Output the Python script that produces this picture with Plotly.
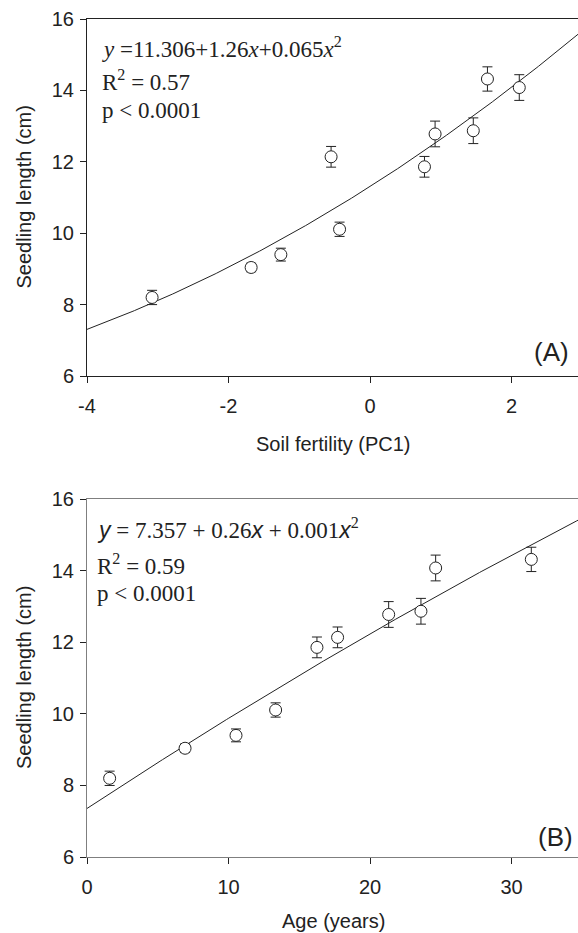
import numpy as np
import plotly.graph_objects as go

# ---- data ----
fertility = [-3.08, -1.68, -1.26, -0.55, -0.43, 0.77, 0.92, 1.46, 1.66, 2.11]
age_years = [1.6, 6.93, 10.53, 17.71, 13.33, 16.25, 21.32, 23.6, 31.4, 24.64]
seedling_len = [8.2, 9.04, 9.40, 12.14, 10.11, 11.86, 12.78, 12.87, 14.32, 14.08]
seedling_err = [0.2, 0.12, 0.18, 0.29, 0.2, 0.29, 0.36, 0.36, 0.34, 0.36]

coef_a = [11.306, 1.26, 0.065]     # fitted curve, panel A
coef_b = [7.357, 0.26, -0.0008]    # fitted curve as drawn, panel B

xrange_a = [-4, 2.94]
xrange_b = [0, 34.7]
yrange = [6, 16]
xticks_a = [-4, -2, 0, 2]
xticklabels_a = ["-4", "-2", "0", "2"]
xticks_b = [0, 10, 20, 30]
yticks = [6, 8, 10, 12, 14, 16]

SANS = "Liberation Sans, Arial, sans-serif"
SERIF = "Liberation Serif, Times New Roman, serif"


def sans_i(s):
    return "<span style='font-family:Liberation Sans'><i>%s</i></span>" % s


eq_a = "<i>y</i> =11.306+1.26<i>x</i>+0.065<i>x</i><sup>2</sup>"
eq_b = sans_i("y") + " = 7.357 + 0.26" + sans_i("x") + " + 0.001" + sans_i("x") + "<sup>2</sup>"
r2_a = "R<sup>2</sup> = 0.57"
r2_b = "R<sup>2</sup> = 0.59"
p_txt = "p &lt; 0.0001"

# ---- layout geometry (pixels) ----
W, H = 578, 933
L, R, T, B = 87, 0, 19, 76


def px(x):
    return (x - L) / (W - L - R)


def py(y):
    return (H - B - y) / (H - T - B)


DARK = "#222222"
GREY = "#7f7f7f"

fig = go.Figure()

xa = np.linspace(xrange_a[0], xrange_a[1], 300)
ya = coef_a[0] + coef_a[1] * xa + coef_a[2] * xa ** 2
xb = np.linspace(xrange_b[0], xrange_b[1], 300)
yb = coef_b[0] + coef_b[1] * xb + coef_b[2] * xb ** 2

fig.add_trace(go.Scatter(x=xa, y=ya, mode="lines", line=dict(color=DARK, width=1),
                         xaxis="x", yaxis="y", hoverinfo="skip"))
fig.add_trace(go.Scatter(x=fertility, y=seedling_len, mode="markers",
                         error_y=dict(type="data", array=seedling_err, color=DARK, thickness=1, width=5),
                         marker=dict(size=12, color="white", line=dict(color=DARK, width=1)),
                         xaxis="x", yaxis="y"))
fig.add_trace(go.Scatter(x=xb, y=yb, mode="lines", line=dict(color=DARK, width=1),
                         xaxis="x2", yaxis="y2", hoverinfo="skip"))
fig.add_trace(go.Scatter(x=age_years, y=seedling_len, mode="markers",
                         error_y=dict(type="data", array=seedling_err, color=DARK, thickness=1, width=5),
                         marker=dict(size=12, color="white", line=dict(color=DARK, width=1)),
                         xaxis="x2", yaxis="y2"))

common = dict(showgrid=False, zeroline=False, showline=True, ticks="outside", ticklen=6,
              tickwidth=1, tickfont=dict(family=SANS, size=20, color=DARK), linewidth=1)

fig.update_layout(
    width=W, height=H, margin=dict(l=L, r=R, t=T, b=B, pad=0),
    paper_bgcolor="white", plot_bgcolor="white", showlegend=False,
    xaxis=dict(domain=[0, 1], anchor="y", range=xrange_a, tickvals=xticks_a,
               ticktext=xticklabels_a, ticklabelstandoff=6,
               mirror=True, linecolor=DARK, tickcolor=DARK, **common),
    yaxis=dict(domain=[py(376), 1], anchor="x", range=yrange, tickvals=yticks,
               linecolor=DARK, tickcolor=DARK, ticklabelstandoff=2, **common),
    xaxis2=dict(domain=[0, 1], anchor="y2", range=xrange_b, tickvals=xticks_b,
                ticklabelstandoff=6,
                mirror=True, linecolor=GREY, tickcolor=DARK, **common),
    yaxis2=dict(domain=[0, py(499.3)], anchor="x2", range=yrange, tickvals=yticks,
                linecolor=GREY, tickcolor=DARK, ticklabelstandoff=2, **common),
)

ann = []


def text(t, x, y, size, family=SANS, xanchor="left", angle=0):
    ann.append(dict(text=t, x=px(x), y=py(y), xref="paper", yref="paper", showarrow=False,
                    xanchor=xanchor, yanchor="middle", textangle=angle,
                    font=dict(family=family, size=size, color=DARK)))


# panel A texts
text(eq_a, 100, 47, 23, SERIF)
text(r2_a, 100, 80, 23, SERIF)
text(p_txt, 100, 111, 23, SERIF)
text("(A)", 571, 352, 26, xanchor="right")
text("Soil fertility (PC1)", 333, 444, 20, xanchor="center")
text("Seedling length (cm)", 24, 197.5, 20, xanchor="center", angle=-90)

# panel B texts
text(eq_b, 95, 528, 23, SERIF)
text(r2_b, 95, 564, 23, SERIF)
text(p_txt, 95, 593, 23, SERIF)
text("(B)", 575, 837, 26, xanchor="right")
text("Age (years)", 333, 921, 20, xanchor="center")
text("Seedling length (cm)", 24, 678, 20, xanchor="center", angle=-90)

fig.update_layout(annotations=ann)

fig.write_html("out.html")
